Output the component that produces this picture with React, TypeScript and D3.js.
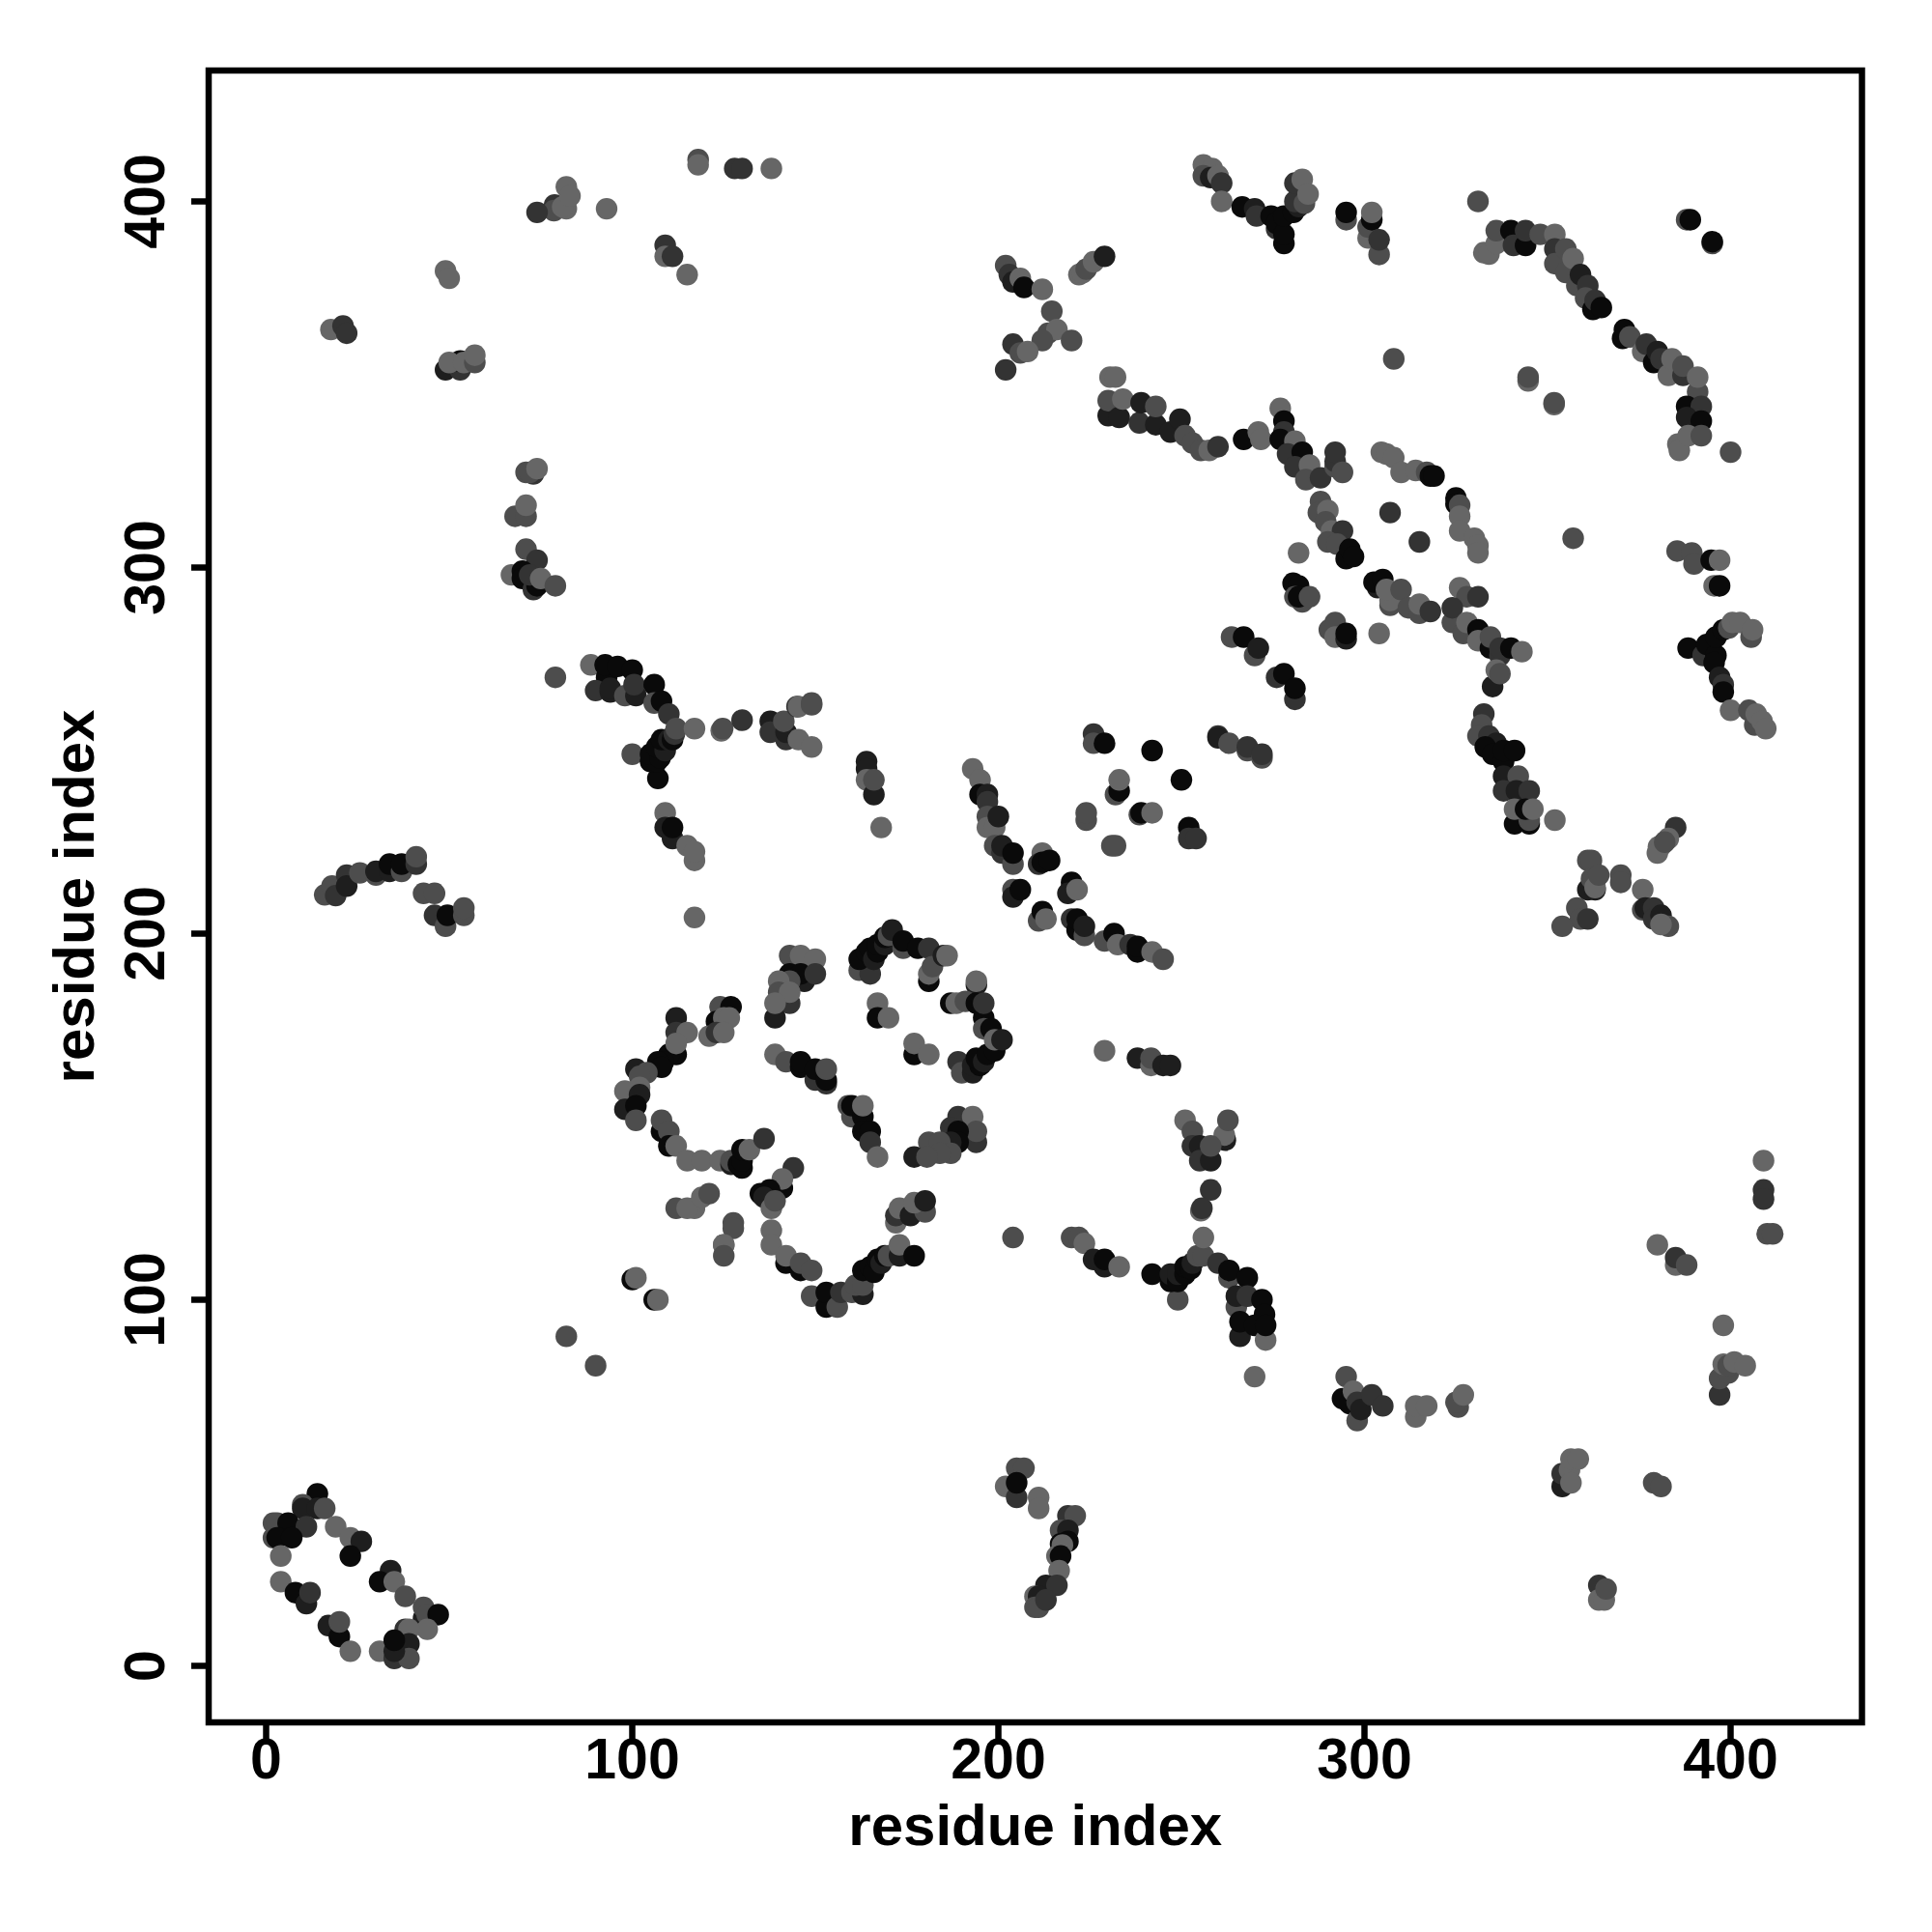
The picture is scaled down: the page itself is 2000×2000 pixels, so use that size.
import React from "react";
import * as d3 from "d3";

type P = [number, number, number];

const tickValues = [0, 100, 200, 300, 400];
const axisTitle = "residue index";
const shades = ["#0a0a0a", "#1e1e1e", "#333333", "#4d4d4d", "#666666"];

const bottomLeft: P[] = [
  [14,47,0],[10,44,3],[10,43,1],[14,43,1],[16,43,3],[2,39,3],[3,39,3],[6,39,0],[11,38,2],[2,35,3],[3,35,0],[7,35,0],[4,30,4],[19,38,4],[23,35,4],[26,34,1],[23,30,0],[34,26,1],[31,23,0],[35,23,4],[38,19,3],[4,23,4],[8,20,0],[11,17,1],[12,20,2],[17,11,1],[20,8,0],[20,12,3],[23,4,4],[31,4,4],[43,13,1],[43,16,3],[44,14,3],[47,14,0],[44,10,4],[38,10,2],[39,10,4],[39,6,1],[35,2,2],[39,2,3],[35,4,1],[35,7,0],
];
const leftSide: P[] = [
  [82,90,3],[90,82,3],[100,105.5,0],[101,106,4],[106,100,0],[107,100,4],
  [118,411.4,3],[118,410,4],[128,409,2],[130,409,2],[138,409,4],[82,404,4],[78.8,399,2],[78.6,397.5,3],[74,397,2],[82,398,4],[81,398.5,4],[83,401.5,4],[93,398,4],[109,388,2],[109,385,4],[111,385,2],[115,380,4],[49,381,4],[50,379,4],[17.7,365,4],[21,366,2],[22,364,2],[49,354,1],[53,354,2],[53,356.4,0],[50,356,4],[54,356,4],[57,356,3],[57,358,4],
  [71,326,3],[73,325.6,2],[72,326,3],[74,327,4],[68,314,3],[71,314,3],[71,317,4],[71,305,3],[74,302,2],[67,298,4],[70,299,0],[70,297,0],[73,294,2],[74,295,0],[72,298,2],[75,297,4],[79,295,3],
  [16,210.6,3],[18,213,3],[19,210.4,2],[22,216,2],[22,213,1],[25.6,216.6,3],[30,216,3],[30,217,1],[33.7,217,1],[33.7,219,0],[37,217,3],[37,219,0],[41,219,2],[41,221,3],[43,211,3],[46,211,3],[46,205,2],[49,202,3],[49.5,205,0],[54,205,3],[54,207,3],
];
const upperMiddle: P[] = [
  [79,270,3],[88.7,273.4,4],[93,270,0],[92.6,273.4,0],[96,273,0],[100,272,0],[90,266.4,2],[94,266,1],[94,267,1],[98,265,3],[101,265,1],[100.5,268,2],[106,268,0],[106,263,3],[108,263.5,0],[110,260,2],[100,249,3],[107,242.4,0],[105,247,0],[106.7,247,0],[105,249,0],[107.6,248,0],[106.7,251,0],[109,250,1],[108,253,0],[110,253,1],[111,253,0],[111.5,254.5,2],[112,256,3],
  [117,256,4],[124.3,255.4,4],[124.7,256,3],[130,258.3,2],[137.7,258,1],[137.7,255,2],[142,253,2],[142,255,1],[141.4,258,3],[145,262,2],[145.4,262,4],[149,263,3],[149,262.5,3],[145.4,253,4],[149,251,4],
  [164,247,1],[164,245,1],[164,242,4],[166,238,1],[166,242,3],[168,229,4],[109,233,4],[109,229,1],[111,226,1],[111,229,0],[115,224,4],[117,220,4],[117,222.4,4],[117,204.4,4],
];
const ringLeft: P[] = [
  [112,177,1],[112,173,2],[115,173,4],[112,167,0],[110,167,0],[108.5,165,0],[107,165,0],[108,163.5,0],[112,170,4],[101,163,1],[104,162,3],[102,161,3],[102,158,4],[98,157,4],[102,156,1],[98,152,1],[101,153,0],[101,149,3],[108,146,0],[108,149,3],[110,146,3],[110,142,0],[112,142,4],[115,138,4],[119,138,4],[124,138,4],[127,137,1],[127,138,3],[130,136,0],[129,137,0],[130,138,0],[130,141,0],[132,141,4],[136,144,2],
  [124,180,3],[127,180,0],[123,176,0],[125,177,4],[126.5,177,4],[121,172,4],[123,173,2],[125,173,4],
  [143,194,3],[146,194,4],[150,193,4],[143,189,0],[147,187,1],[146,189,0],[150,189,2],[143,187,3],[140,187,4],[140,184,3],[143,181,2],[143,184,4],[139,177,1],[139,181,4],
];
const ringTop: P[] = [
  [162,190,3],[165,189,2],[162,193,0],[164,195,0],[165,196,0],[166,193,1],[167,195,0],[167,197,0],[169,197,1],[169,199,0],[170,199.5,3],[171,201,1],[174,196,3],[174,198,0],[178,196,0],[181,187,0],[181,189,4],[181,196,2],[182,191,3],[185,194,1],[186,194,4],
  [167,181,4],[167,177,0],[170,177,4],[177,167,0],[177,170,4],[181,167,4],[194,186,1],[194,187,4],[187,181,0],[188.5,181,4],[191,181.5,3],[194,181,0],[196,177,0],[196,181,2],[196,174,3],[198,174,0],[189,165,2],[190,162,3],[193,162,1],[193,164,1],[195,164,0],[194,166,0],[196,165,1],[197,167,0],[199,168,0],[199,171,4],[201,171,1],
  [139,167,4],[142,165,3],[146,163.5,0],[146,165,0],[150,160,2],[150,163,0],[153,159,2],[153,160,0],[153,163,3],
  [159,153,3],[160,150,3],[160,153,0],[163,150,0],[163,153,4],[163,146,0],[165,146,0],[165,143,2],[167,139,4],
];
const ringRight: P[] = [
  [189,150,2],[193,150,4],[187,147,2],[194,143,2],[194,146,3],[189,146,0],[189,143,0],[187,143,1],[181,143,3],[184,143,3],[187,140,3],[184,140,3],[177,139,1],[180.5,139,3],
  [144,136,2],[141,130.5,0],[141,133,4],[135,129,0],[137.5,130,0],[136,128,1],[138,125,4],[139,127,3],[138,119,4],[138,115,4],[142,110,0],[142,112,4],[146,108,0],[146,110,3],[149,108,3],
  [117,125,4],[112,125,3],[115,125,4],[119,128,4],[121,129,3],[127.6,121,3],[127.6,119.5,3],[125,115,3],[125,115,4],[125,112,3],
  [149,101,3],[153,98,0],[153,102,0],[156,98,3],[157,102,2],[160,102,3],[163,101.5,1],[161,104,3],[163,104,3],[163,108,0],[165,109,0],[166,107.5,0],[167,111,0],[168,110,1],[169,112,0],[170,112,3],[173,112,1],[173,115,4],[177,112,0],
  [172,121,4],[172,123,2],[173,125,4],[176,123,1],[180,124,3],[177,126.5,4],[180,127,1],[204,117,3],
];
const diagonalMiddle: P[] = [
  [226,254.5,2],[226,252,3],[229,252,0],[242,250,0],[260,254,2],[260,253.5,1],[263,252,3],[268,250,3],[268,251,2],[272,248,3],[272,249,2],
  [232,238,3],[233,239,0],[233,242,4],[250,242,0],[224,231,3],[224,233,3],[238.5,232.5,3],[239,233,0],[242,233,4],[252,229,0],[252,226,2],[254,226,2],[231,224,3],[232,224,3],
  [193,245,4],[195,242,4],[195,238,0],[197,238,1],[197,236,2],[197,232,3],[197,229,4],[199,229,4],[200,232,1],[199,224,3],[201,222,2],[201,224,1],[204,219,3],[204,222,0],[212,222,4],[211,219,2],[212,219.5,0],[214,220,0],[220,214,0],[219,211,1],[221.5,212,4],[204,212,3],[204,210,1],[206,212,0],[211,203.5,3],[212,206,0],[213,204,4],[220,204,2],[221.5,201,0],[221.5,204,0],[223.5,199.5,3],[223.5,202,1],[229,198,3],[231.6,200,0],[232.6,197,4],[236,197,2],[238,195,0],[238,196.5,0],[242,195,4],[245,193,3],
  [229,168,4],[238,166,1],[241.7,164,4],[241.7,166,3],[245,164,1],[247,164,1],
  [251,149,4],[253,146,3],[253,142,2],[262,143.6,1],[261.7,145,4],[262.7,149,3],[255,142,1],[255,138,2],[258,138,1],[258,142,3],[258,130,2],[255.3,124.3,4],[255.6,125,2],
];
const lowerMiddle: P[] = [
  [220,117,3],[222,117,3],[223.5,115.4,4],[226,111,1],[229,109,1],[229,111,0],[233,109,4],[242,107,0],[249,100,3],[247,105,0],[247,107,1],[249,105,0],[249,107,1],[251,107,0],[251,109,0],[252.6,108.5,0],[253,110,1],[254.4,112,3],[256,112,3],[256,117,4],[260,110,2],[263,106,3],[263,108,0],[268,106,0],[265,98,3],[265,101,1],[268,101,2],[272,100,0],[272.7,96,0],[266,90,1],[266,94,0],[270,93,0],[273,89,4],[273,93,0],[270,79,4],
  [295,79,3],[294,73,0],[296,71.6,0],[297,75,4],[298,67,3],[298,72,2],[299,70,1],[302,74,2],[305,71,2],[314,68,4],[314,71,4],[317,71,4],[325.6,70.7,3],[325,72,3],[327,74,4],
  [205,54,3],[207,54,3],[202,49,4],[205,46,2],[205,50,0],[211,46,4],[211,43,4],[219,41,2],[221,41,3],[217,37,3],[219,37,1],[217,33.3,0],[219,34,0],[217.5,33,4],[216,30,4],[217,30,0],[216.6,26,4],[213,22,1],[216,22,2],[210,19,4],[211,19,1],[210,16,3],[211,16,3],[213,18,2],
];
const lowerRight: P[] = [
  [409,138,4],[409,130,2],[409,127.5,2],[410,118,3],[411.5,118,3],[380,115,4],[385,109.5,4],[385,111.5,2],[388,109.5,3],[398,93,4],[397,74,2],[397,78.5,3],[399.4,80,3],[398,82.4,4],[399.3,82,3],[401,83,4],[404,82,4],
  [354,49,1],[354,52.5,2],[356,53.5,4],[356.4,50,4],[356.4,56.5,4],[358.4,56.5,4],[379,50,3],[381,49,3],[364,22,2],[364,18,4],[365.5,18,4],[366,21,3],
  [361,220,3],[362,220,3],[361,212,1],[363,212,1],[362,215,3],[363,212.6,4],[364,216,3],[370,216,3],[370,214,3],[358,207,3],[359,204,3],[361,204,2],[354,202,3],[376,212,4],[376,206.5,3],[376.7,207,1],[379,207,2],[379,204,2],[381,205,1],[383,202,3],[381,202.5,4],
];
const upperCross: P[] = [
  [202,382.5,3],[203,380,2],[204,378,1],[206,379,4],[207,376.5,0],[212,376,4],[214.6,370,3],[213.6,364,3],[216,365,4],[212,362,3],[220,362,3],[204,361,2],[206,358.6,3],[208,359,4],[202,354,2],[222,380,4],[223,380.5,4],[224,381.5,3],[226,383.5,4],[229,385,1],
  [230.5,352,4],[232,352,4],[230,341.5,1],[230,345.6,3],[233,341,1],[234,346,4],[238.5,339.5,2],[239,345,1],[243,339,1],[243,344,3],[247,337,1],[249.6,340.5,1],[251,336,3],[253,334,3],[255.3,332,3],[257.6,332,4],[260,333,2],
];
const upperRightA: P[] = [
  [267,335,0],[271,337,4],[271.7,335,4],[277,343.5,4],[278,340,0],[278,337,2],[277,335,0],[281,334.5,4],[279,331,2],[283,331.5,0],[281,327.5,2],[285,328,4],[284,324,3],[288,324.5,2],[292,327.5,3],[292,329,2],[292,331.5,2],[294,326,3],
  [304.6,331.5,4],[306,331,4],[308,330,4],[310,326,4],[314,326.5,4],[317,326,3],[318,325,0],[319,325,0],[325,319,0],[325,317.4,0],[326,317,3],[326,314,4],[326,310,4],[330,308,4],[331,306,4],[331,304,4],[307,315,2],[315,307,2],[357,308,3],
  [288,318,3],[287.4,315,3],[290,315.6,4],[289.4,312.5,3],[291,310,4],[294,310,2],[290,307,3],[292.5,306.4,3],[295,302.4,0],[296,305,0],[297,303,0],[282,304,4],
  [280.5,295.7,0],[282,295,0],[281,292,3],[283,290.6,3],[282,292,0],[285,292,3],[290.4,283,3],[292,285,3],[292,281,4],[295,280.5,1],[295,282,0],[304,282,4],
  [303.6,294.5,1],[302.6,296,0],[305,296.7,0],[307,289.7,3],[307,291,4],[306,294,4],[310,294,3],[312,289,3],[315,287.5,3],[315,290,4],[318,288,2],[326,294.5,4],[328,292,3],[331,292,2],
  [324,285,3],[324,289,2],[327,282,3],[328,285,4],[331,283,0],[331,280,4],[334.4,278,0],[334.4,281,3],[337,276,2],[337,278,2],[340,278,0],[343,277,4],[335,267.5,1],[336,272,4],[337,271,3],
  [263.7,281,3],[267,281,0],[270,276,3],[271,278,1],[276,270,2],[278,271,0],[281,264,2],[281,267,0],
];
const upperRightB: P[] = [
  [332.6,260,2],[332,257,3],[331,254,3],[334,254,2],[336,252,1],[333,251,0],[335,249,0],[338,247,0],[338,250,0],[341,250,0],[338,243,1],[342,243,3],[338,239,2],[341.5,239,1],[345,239,2],[341,230,0],[345,230,0],[345,231,3],[341,234,4],[344,234,0],[346,234,4],[352,231,4],
  [391,348,3],[388,344,0],[392,344,2],[388,341,1],[392,340,0],[385.6,333.7,4],[386,332,4],[388.4,336,4],[392,336,3],[400,331.5,3],
  [385.4,304.5,3],[389.4,304,3],[390,301,3],[394.7,302,0],[397,302,4],[395.5,295,4],[397,295,0],
  [388.4,278,0],[392.5,276,2],[393.5,279,0],[396,276,0],[396,281,0],[395.5,274,0],[397,270,1],[398,268,2],[398,266,0],[398,283,0],[399.5,283.5,3],[400.5,285,4],[402.6,285,4],[405.6,281,3],[406,283,4],
  [400,261,4],[405,261,3],[406.6,257,3],[407,260,4],[408.6,258,4],[409.6,256,4],[385,229,2],[383,226,4],[381,224,4],[380.3,223.7,4],[380,222,4],[382,225,3],
];
const topRight: P[] = [
  [256,410,4],[258.4,409,4],[256,407,3],[258,406.5,1],[260,407,4],[261,405,2],[261,400,4],[266.6,398.5,0],[270,398,1],[270.5,396,2],[274.5,396,0],[276,392.5,2],[276,394,0],[278,388.5,0],[278,391,0],[278,396,0],[280.6,397,0],[282,398.6,1],[281,400,2],[281,405,2],[283,406,4],[283.6,399.5,3],[284.6,402,4],
  [295,395,3],[295,397,0],[301,390,4],[301,393,3],[302,395,0],[302,397,4],[304,385.5,3],[304,389.5,2],[308,357,3],[331,400,3],
  [332.6,386,4],[334,385.6,4],[336,388.5,4],[336,392,3],[340,392,0],[340.7,388,2],[344,388,0],[344,392,2],[348,391,3],[352,391,4],
  [352,387,2],[352,383,3],[355,380.6,3],[355,387,3],[357,384.4,4],[358,377,3],[359,380,1],[361,377,2],[360.4,373.6,3],[362.4,370.5,0],[363,373,2],[364.7,371,0],
  [370.5,362.6,0],[371,365,0],[372.5,363,3],[376,359,4],[377,361,2],[379,356,0],[380,359,1],[381,357,2],[383,352.5,4],[384,357,4],[387,352.5,2],[387,355,3],[391,352,4],
  [388,395,3],[389,395,0],[395,388.5,3],[395,389,0],[344.7,351,4],[344.7,352,3],[351.8,344.5,4],[351.8,345,3],
];

const groups: P[][] = [bottomLeft, leftSide, upperMiddle, ringLeft, ringTop, ringRight, diagonalMiddle, lowerMiddle, lowerRight, upperCross, upperRightA, upperRightB, topRight];

const x = d3.scaleLinear().domain([0, 400]).range([275.5, 1791.5]);
const y = d3.scaleLinear().domain([0, 400]).range([1724.5, 208.5]);

const box = { left: 216, right: 1927.5, top: 73, bottom: 1783 };
const font = "'Liberation Sans', Arial, sans-serif";

export default function App() {
  return (
    <svg width={2000} height={2000} viewBox="0 0 2000 2000" style={{ position: "absolute", left: 0, top: 0, background: "#fff" }}>
      <rect x={0} y={0} width={2000} height={2000} fill="#fff" />
      {groups.map((g, gi) => (
        <g key={gi}>
          {g.map((p, i) => (
            <circle key={i} cx={x(p[0])} cy={y(p[1])} r={11.2} fill={shades[p[2]]} />
          ))}
        </g>
      ))}
      <rect x={box.left} y={box.top} width={box.right - box.left} height={box.bottom - box.top} fill="none" stroke="#000" strokeWidth={6.5} />
      <g stroke="#000" strokeWidth={6.5}>
        {tickValues.map((t) => (
          <line key={"x" + t} x1={x(t)} x2={x(t)} y1={box.bottom} y2={box.bottom + 18} />
        ))}
        {tickValues.map((t) => (
          <line key={"y" + t} y1={y(t)} y2={y(t)} x1={box.left} x2={box.left - 18} />
        ))}
      </g>
      <g fontFamily={font} fontWeight="bold" fontSize={59} fill="#000" textAnchor="middle">
        {tickValues.map((t) => (
          <text key={"xl" + t} x={x(t)} y={1841}>{t}</text>
        ))}
        {tickValues.map((t) => (
          <text key={"yl" + t} transform={`translate(170,${y(t)}) rotate(-90)`}>{t}</text>
        ))}
      </g>
      <g fontFamily={font} fontWeight="bold" fontSize={60} fill="#000" textAnchor="middle">
        <text x={(box.left + box.right) / 2} y={1910}>{axisTitle}</text>
        <text transform={`translate(97,${(box.top + box.bottom) / 2}) rotate(-90)`}>{axisTitle}</text>
      </g>
    </svg>
  );
}
